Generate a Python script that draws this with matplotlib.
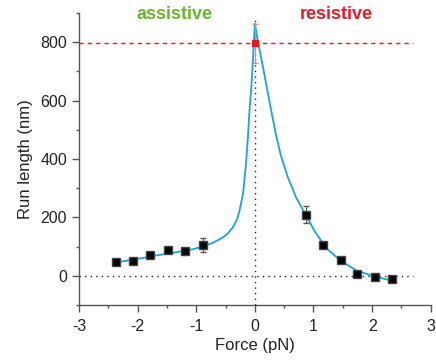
import matplotlib
matplotlib.use("Agg")
import matplotlib.pyplot as plt
from matplotlib.ticker import MultipleLocator

plt.rcParams['font.family'] = ['Liberation Sans', 'DejaVu Sans']
plt.rcParams['axes.unicode_minus'] = False

# measured points
assist_force = [-2.37, -2.07, -1.78, -1.48, -1.19, -0.89]
assist_len = [46, 52, 72, 89, 84, 106]
assist_err = [6, 8, 7, 10, 7, 23]

resist_force = [0.88, 1.17, 1.47, 1.75, 2.05, 2.34]
resist_len = [209, 106, 55, 6, -3, -11]
resist_err = [30, 6, 5, 5, 4, 4]

zero_force = [0.0]
zero_len = [796]
zero_err = [66]

# fit curve
fit_left_x = [-2.36, -2.07, -1.78, -1.48, -1.19, -1.05, -0.88, -0.71, -0.54, -0.46,
              -0.37, -0.30, -0.26, -0.20, -0.15, -0.12, -0.09, -0.06, -0.03, 0.0]
fit_left_y = [46, 55, 66, 76, 86, 91, 101, 113, 132, 145,
              167, 195, 224, 283, 385, 470, 570, 645, 750, 862]
fit_right_x = [0.0, 0.06, 0.13, 0.19, 0.25, 0.36, 0.44, 0.56, 0.70, 0.87,
               1.03, 1.23, 1.46, 1.74, 2.05, 2.34]
fit_right_y = [862, 795, 724, 660, 596, 483, 415, 339, 270, 207,
               149, 92, 52, 17, -3, -17]

fig = plt.figure(figsize=(4.36, 3.63), dpi=100)
ax = fig.add_axes([0.181, 0.160, 0.807, 0.804])

blue = '#1ba3dd'
ax.plot(fit_left_x, fit_left_y, color=blue, lw=1.3, zorder=3)
ax.plot(fit_right_x, fit_right_y, color=blue, lw=1.3, zorder=3)

# guide lines
ax.plot([-3, 2.7], [0, 0], color='#222222', ls=(0, (1, 3)), lw=1, zorder=1)
ax.plot([0, 0], [-100, 880], color='#222222', ls=(0, (1, 3)), lw=1, zorder=1)
ax.plot([-3, 2.7], [zero_len[0], zero_len[0]], color='#f0102a', ls=(0, (3, 3)), lw=1, zorder=1)

ax.errorbar(assist_force, assist_len, yerr=assist_err, fmt='s', color='black',
            ms=5.5, mec='#444444', ecolor='#555555', elinewidth=0.8, capsize=2.5, zorder=4)
ax.errorbar(resist_force, resist_len, yerr=resist_err, fmt='s', color='black',
            ms=5.5, mec='#444444', ecolor='#555555', elinewidth=0.8, capsize=2.5, zorder=4)
ax.errorbar(zero_force, zero_len, yerr=zero_err, fmt='s', color='#e31a1c',
            ms=5, mec='#e31a1c', ecolor='#f08080', elinewidth=0.8, capsize=2.5, zorder=4)

ax.text(-1.37, 895, 'assistive', color='#6cb52d', fontsize=13, fontweight='bold',
        ha='center', va='center')
ax.text(1.38, 895, 'resistive', color='#e8192c', fontsize=13, fontweight='bold',
        ha='center', va='center')

ax.set_xlim(-3, 3)
ax.set_ylim(-100, 900)
ax.xaxis.set_major_locator(MultipleLocator(1))
ax.xaxis.set_minor_locator(MultipleLocator(0.5))
ax.yaxis.set_major_locator(MultipleLocator(200))
ax.yaxis.set_minor_locator(MultipleLocator(100))

for s in ['top', 'right']:
    ax.spines[s].set_visible(False)
for s in ['left', 'bottom']:
    ax.spines[s].set_color('#555555')
    ax.spines[s].set_linewidth(1)

ax.tick_params(which='major', direction='out', length=5, width=1, color='#555555',
               labelsize=11.5, labelcolor='#222222')
ax.tick_params(axis='x', which='major', pad=5)
ax.tick_params(which='minor', direction='out', length=2.5, width=1, color='#555555')

ax.set_xlabel('Force (pN)', fontsize=12, color='#222222', labelpad=3)
ax.set_ylabel('Run length (nm)', fontsize=12, color='#222222', labelpad=5)

fig.savefig('out.png', dpi=100)
